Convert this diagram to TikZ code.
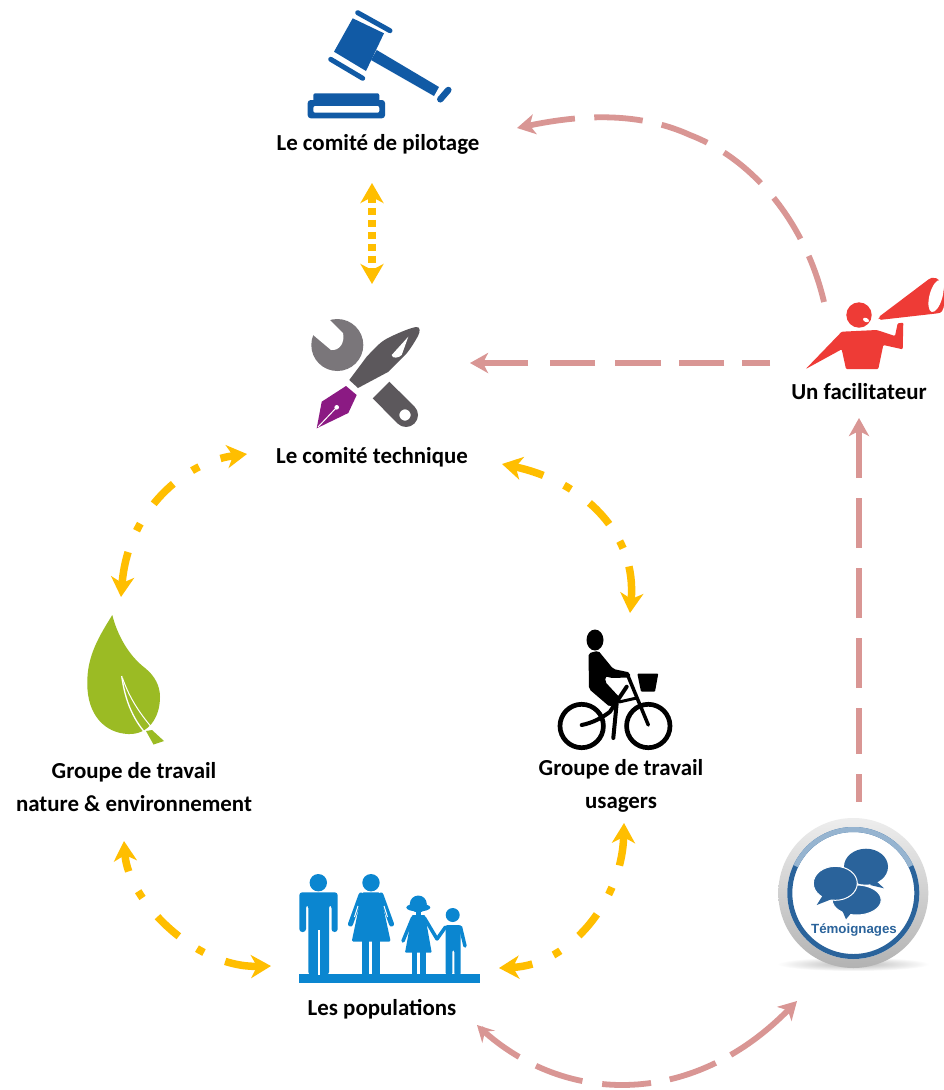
\documentclass[tikz,border=0pt]{standalone}
\usepackage{fontspec}
\setmainfont{Carlito}
\newfontfamily\badgefont{Liberation Sans}
\usetikzlibrary{arrows.meta}
\definecolor{ylw}{HTML}{FFBE00}
\definecolor{pnk}{HTML}{D99694}
\definecolor{gavel}{HTML}{115AA5}
\definecolor{peop}{HTML}{0B86D0}
\definecolor{leafg}{HTML}{9BBB24}
\definecolor{redm}{HTML}{EE3B36}
\definecolor{badge}{HTML}{2A639B}
\definecolor{badgepale}{HTML}{96B4D0}
\definecolor{nibc}{HTML}{8B1A83}
\definecolor{wrench}{HTML}{7A767A}
\definecolor{pengray}{HTML}{5C585C}
\tikzset{
  lab/.style={font=\fontsize{22.9}{33}\selectfont\bfseries,text=black,inner sep=0pt,align=center},
  ylink/.style={draw=ylw,line width=7.5pt,{Stealth[length=20pt,width=23pt,inset=6pt]}-{Stealth[length=20pt,width=23pt,inset=6pt]}},
  plink/.style={draw=pnk,line width=5.8pt,-{Stealth[length=18pt,width=20pt,inset=5pt]}},
}
\begin{document}
\begin{tikzpicture}[x=1pt,y=-1pt]
\path[use as bounding box,fill=white] (0,0) rectangle (944,1090);

% ---- labels
\node[lab] (pilot) at (378,144.5) {Le comité de pilotage};
\node[lab] (tech) at (372,457.5) {Le comité technique};
\node[lab] (facil) at (859,391.5) {Un facilitateur};
\node[lab] (nat) at (134,787) {Groupe de travail\\nature \& environnement};
\node[lab] (usa) at (621,786) {Groupe de travail\\usagers};
\node[lab] (pop) at (382,1009.5) {Les populations};

% ---- connector ends
\coordinate (pilotS) at (372,183);
\coordinate (techN) at (372,284);
\coordinate (techW) at (247,454);
\coordinate (natN) at (121,597);
\coordinate (techE) at (502,464);
\coordinate (usaN) at (630,613);
\coordinate (natS) at (124,841);
\coordinate (popW) at (271,966);
\coordinate (usaS) at (624,823);
\coordinate (popE) at (499,968);
\coordinate (facN) at (824,302);
\coordinate (facArc) at (690,135);
\coordinate (pilotE) at (517,128);
\coordinate (facW) at (770,363);
\coordinate (techR) at (470,363);
\coordinate (badgeN) at (859,802);
\coordinate (facS) at (859,418);
\coordinate (popS) at (477,1025);
\coordinate (badgeS) at (797,1001);

% ---- yellow connectors
\draw[ylink,dash pattern=on 7 off 5] (pilotS) -- (techN);
\draw[ylink,dash pattern=on 14 off 23 on 8 off 23 on 28 off 24 on 8 off 23 on 100] (techW) .. controls (185,462) and (128,510) .. (natN);
\draw[ylink,dash pattern=on 30 off 23 on 8 off 23 on 29 off 20 on 8 off 19 on 100] (techE) .. controls (585,482) and (637,535) .. (usaN);
\draw[ylink,dash pattern=on 18 off 22 on 8 off 24 on 29 off 22 on 8 off 23 on 100] (natS) .. controls (128,900) and (195,968) .. (popW);
\draw[ylink,dash pattern=on 30 off 23 on 8 off 23 on 28 off 24 on 8 off 23 on 100] (usaS) .. controls (622,900) and (570,965) .. (popE);

% ---- pink connectors
\draw[plink,dash pattern=on 48.6 off 19 on 49 off 19.6 on 48 off 19.5 on 49 off 19.4 on 48.6 off 19.4 on 100] (facN) .. controls (806,225) and (755,160) .. (facArc) .. controls (635,110) and (575,116) .. (pilotE);
\draw[plink,dash pattern=on 28 off 18 on 45 off 18 on 46 off 20 on 45 off 22 on 100] (facW) -- (techR);
\draw[plink,dash pattern=on 28 off 20 on 46 off 20 on 50 off 20 on 50 off 20 on 50 off 20 on 100] (badgeN) -- (facS);
\draw[plink,dash pattern=on 0 off 5 on 48 off 19 on 49 off 20 on 49 off 19 on 49 off 17 on 100] (popS) .. controls (560,1105) and (690,1110) .. (badgeS);
\fill[pnk] (477,1025) -- (495,1030.7) -- (485,1031.7) -- (482.3,1043) -- cycle;

% ---- gavel
\begin{scope}[gavel]
\fill (352.7,18.3) -- (384,33.3) -- (366,71) -- (334,51.7) -- cycle;
\draw[line width=5pt,line cap=round] (357.7,12.7) -- (390,30.7);
\draw[line width=5pt,line cap=round] (330.7,59.3) -- (362.7,78.3);
\fill (376.7,50) -- (371,60) -- (434,96) -- (439,87) -- cycle;
\draw[line width=6.5pt,line cap=round] (448.3,90) -- (440.3,99.3);
\fill[rounded corners=2pt] (313.3,93.3) rectangle (379.3,102);
\fill[rounded corners=3pt] (307.7,100) rectangle (385,118.3);
\fill[white,rounded corners=2pt] (313.3,106) rectangle (379.3,112.7);
\end{scope}

% ---- wrench and pen
\fill[wrench] (337.3,345) circle (26);
\fill[white] (326,316) -- (343,333) .. controls (345,342) and (340,351) .. (331,350) -- (312,334) -- (312,316) -- cycle;
\fill[pengray,even odd rule] (372.7,398.3) -- (389.3,381.7) -- (414.5,406.5) arc[start angle=-45,end angle=135,radius=12] -- cycle (405,415) circle (5.7);
\fill[pengray] (349.3,380) -- (366.7,356.7) .. controls (375,348) and (380,342) .. (388,338) .. controls (398,333) and (410,328) .. (416,327) .. controls (421,326.5) and (420,332) .. (418,336) .. controls (414,343) and (411,348) .. (406.7,353.3) -- (388,372) -- (358,388) -- cycle;
\fill[white] (391.7,355) -- (408.3,336.7) -- (401.7,355) .. controls (399,358) and (392,359) .. (391.7,355) -- cycle;
\fill[nibc] (346,386) -- (356.7,395) -- (348.3,413) -- (316.7,428.3) -- (321.7,401.7) -- cycle;
\draw[white,line width=1pt] (318,427) -- (336.7,407.3);
\fill[white] (336.7,407.3) circle (2.3);

% ---- facilitator
\begin{scope}[redm]
\fill (859,315) circle (12.7);
\fill[white,rotate around={-25:(866,320)}] (866,320) ellipse (3.2 and 2);
\fill[rounded corners=1pt] (805.7,369) -- (841.7,331.7) -- (876.7,330) -- (895,336) -- (897.7,323.3) -- (903.3,322.7) -- (902.7,349.3) -- (883.3,345) -- (878.3,369) -- (846,369) -- (841.7,349.3) -- cycle;
\fill[rounded corners=2pt] (878.3,317.3) -- (930,278.3) .. controls (938,276) and (944,285) .. (944,296) .. controls (945,305) and (943,312) .. (938,313.3) -- (879,320) -- cycle;
\fill[white,rotate around={-15:(936,296)}] (936,296) ellipse (6.5 and 16.5);
\end{scope}

% ---- testimonials badge
\shade[inner color=black!28,outer color=white] (853.3,964) ellipse (76 and 7);
\shade[top color=black!7,bottom color=black!30] (853.3,893) circle (75);
\fill[white] (853.3,893) circle (66);
\draw[badge,line width=5pt] (853.3,893) circle (63.5);
\draw[badgepale,line width=5pt] (853.3,893) ++(-155:63.5) arc[start angle=-155,end angle=-25,radius=63.5];
\fill[badge] (866,866.7) ellipse (22 and 18);
\fill[badge] (875,880) -- (884,888.3) -- (870,885) -- cycle;
\filldraw[badge,draw=white,line width=1pt] (856.7,900) ellipse (24.5 and 15);
\fill[badge] (852,912) -- (846,919.3) -- (842,910) -- cycle;
\filldraw[badge,draw=white,line width=1pt] (835.3,883.3) ellipse (22 and 17);
\fill[badge] (823,895) -- (816.7,905) -- (832,899) -- cycle;
\node[inner sep=0pt,text=badge,font=\badgefont\fontsize{13.3}{16}\selectfont\bfseries] (temo) at (854,930.5) {Témoignages};

% ---- bike
\fill (595,640) ellipse (8.5 and 10.5);
\fill[rounded corners=2pt] (588.5,653.3) -- (598.3,650.7) -- (613.3,669) -- (630,672.5) -- (630,677.5) -- (610,678) -- (606,676) -- (605,681.7) -- (621,699) -- (610,707) -- (589,689) -- cycle;
\draw[line width=4.7pt] (581.7,726) circle (21.7);
\draw[line width=4.7pt] (648.3,726) circle (21.7);
\draw[line width=4pt,line cap=round] (581.7,725) .. controls (592,723) and (602,718) .. (610,711.7) -- (626.7,686.7);
\draw[line width=4pt,line cap=round] (617,700) -- (613.3,738);
\draw[line width=3.5pt,line cap=round] (628.3,676.7) -- (648.3,725);
\draw[line width=3pt] (619,702) -- (636.7,698);
\fill[rounded corners=1pt] (637.3,673.5) -- (658.3,673.5) -- (655,691.7) -- (641,691.7) -- cycle;

% ---- leaf
\fill[leafg] (112.3,615) .. controls (117,634) and (128,655) .. (145,668) .. controls (155,676) and (160,686) .. (160,697) .. controls (160,718) and (148,735) .. (128,734) .. controls (105,733) and (87,715) .. (87.3,683) .. controls (87,655) and (100,635) .. (112.3,615) -- cycle;
\draw[white,line width=1.3pt] (121.7,676) .. controls (126,708) and (138,726) .. (150,738);
\draw[white,line width=1pt] (122.5,678) .. controls (130,700) and (142,716) .. (153,729);
\fill[leafg] (146,731) -- (153.5,744.5) -- (164,741) -- (152,730) -- cycle;

% ---- people
\begin{scope}[peop]
\fill (299.3,974.3) rectangle (480,982.7);
% man
\fill (318.3,882.7) circle (8.7);
\fill[rounded corners=3pt] (299.3,932) -- (299.3,892.3) -- (337.7,892.3) -- (337.7,932) -- (331.5,932) -- (331.5,905) -- (329,905) -- (329,975) -- (308.3,975) -- (308.3,905) -- (306,905) -- (306,932) -- cycle;
\fill[white] (317.5,930) rectangle (319.5,975);
% woman
\fill (371,882.7) circle (8.7);
\fill[rounded corners=1.5pt] (362,892.3) -- (380,892.3) -- (390.7,941.7) -- (351.7,941.7) -- cycle;
\fill (361.7,940) rectangle (369.3,975);
\fill (372.3,940) rectangle (380,975);
\draw[line width=5pt,line cap=round] (361,895) -- (350.5,924);
\draw[line width=5pt,line cap=round] (381,895) -- (391.5,924);
\draw[white,line width=1pt] (358,906) -- (354.5,917);
\draw[white,line width=1pt] (384,906) -- (387.5,917);
% girl
\fill (418.3,904) circle (8.5);
\fill (418.3,907.5) ellipse (12 and 4);
\fill (416,910) rectangle (421,916);
\fill[rounded corners=1pt] (412,915) -- (425,915) -- (431.7,952.7) -- (405,952.7) -- cycle;
\fill (411.7,950) rectangle (416.7,975);
\fill (420,950) rectangle (425.7,975);
\draw[line width=3.5pt,line cap=round] (412.5,918) -- (403,941);
\draw[line width=3.5pt,line cap=round] (424.5,918) -- (437,939);
% boy
\fill (452.7,915) circle (7);
\fill[rounded corners=2pt] (445.7,925) -- (460.7,925) -- (460.7,975) -- (454.3,975) -- (454.3,950) -- (452.3,950) -- (452.3,975) -- (445.7,975) -- cycle;
\draw[line width=3.5pt,line cap=round] (445.5,927) -- (437,939);
\draw[line width=3.5pt,line cap=round] (460.5,927) -- (465,946);
\end{scope}
\end{tikzpicture}
\end{document}
